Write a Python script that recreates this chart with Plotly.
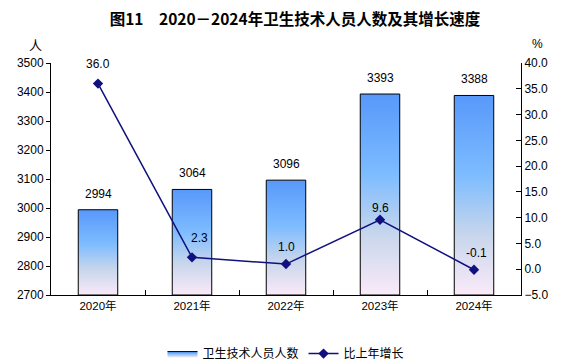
import plotly.graph_objects as go

# ---- data ----
years = ["2020年", "2021年", "2022年", "2023年", "2024年"]
staff = [2994, 3064, 3096, 3393, 3388]          # 卫生技术人员人数 (万人)
growth = [36.0, 2.3, 1.0, 9.6, -0.1]            # 比上年增长 (%)

# ---- style ----
FONT = "Liberation Sans, Arial, Noto Sans CJK SC, sans-serif"
CJK = "Noto Sans CJK SC, sans-serif"
NAVY = "#10107f"
BAR_W = 0.42
Y1_MIN, Y1_MAX = 2700, 3500
Y2_MIN, Y2_MAX = -5, 40
grad = [[0.0, "rgb(250,234,248)"], [0.3, "rgb(200,214,236)"],
        [0.6, "rgb(125,188,255)"], [1.0, "rgb(88,152,250)"]]
line_label_shift = [(0, 20), (7, 19), (0, 17), (0, 12), (2, 17)]

xs = list(range(len(years)))
fig = go.Figure()

for i, (x, v) in enumerate(zip(xs, staff)):
    fig.add_trace(go.Scatter(
        x=[x - BAR_W / 2, x + BAR_W / 2, x + BAR_W / 2, x - BAR_W / 2, x - BAR_W / 2],
        y=[Y1_MIN, Y1_MIN, v, v, Y1_MIN],
        mode="lines", fill="toself",
        fillgradient=dict(type="vertical", colorscale=grad),
        line=dict(color="black", width=1),
        name="卫生技术人员人数", legendgroup="bars", showlegend=(i == 0),
        hoverinfo="skip", yaxis="y"))

fig.add_trace(go.Scatter(
    x=xs, y=growth, mode="lines+markers", yaxis="y2",
    line=dict(color=NAVY, width=1.5),
    marker=dict(symbol="diamond", size=8, color=NAVY),
    name="比上年增长"))

for x, v in zip(xs, staff):
    fig.add_annotation(x=x, y=v, yref="y", text=str(v), showarrow=False,
                       yshift=16, font=dict(family=FONT, size=12, color="black"))
for x, g, (dx, dy) in zip(xs, growth, line_label_shift):
    fig.add_annotation(x=x, y=g, yref="y2", text=f"{g:.1f}", showarrow=False,
                       xshift=dx, yshift=dy, font=dict(family=FONT, size=12, color="black"))

fig.add_annotation(xref="paper", yref="paper", x=-0.034, y=1.08, xanchor="center",
                   yanchor="middle", text="人", showarrow=False,
                   font=dict(family=CJK, size=13, color="black"))
fig.add_annotation(xref="paper", yref="paper", x=1.036, y=1.08, xanchor="center",
                   yanchor="middle", text="%", showarrow=False,
                   font=dict(family=FONT, size=12, color="black"))

fig.update_layout(
    template="none",
    width=576, height=364,
    margin=dict(l=51, r=55, t=63, b=69, autoexpand=False),
    paper_bgcolor="white", plot_bgcolor="white",
    font=dict(family=FONT, size=11, color="black"),
    title=dict(text="<b>图11\u30002020－2024年卫生技术人员人数及其增长速度</b>",
               x=0.519, xanchor="center", xref="paper", yref="container",
               y=1 - 20 / 364, yanchor="middle",
               font=dict(family=CJK, size=15.5, color="black")),
    xaxis=dict(range=[-0.5, len(years) - 0.5], tickmode="array", tickvals=xs,
               ticktext=years, ticks="", showgrid=False, zeroline=False,
               showline=True, linecolor="black", linewidth=1, automargin=False,
               tickfont=dict(family=FONT, size=11.5),
               minor=dict(tickmode="array", tickvals=[x + 0.5 for x in xs[:-1]],
                          ticks="inside", ticklen=5, tickcolor="black", showgrid=False)),
    yaxis=dict(range=[Y1_MIN, Y1_MAX], dtick=100, ticks="outside", ticklen=4,
               tickcolor="black", showgrid=False, zeroline=False, automargin=False,
               showline=True, linecolor="black", linewidth=1,
               tickfont=dict(family=FONT, size=12)),
    yaxis2=dict(range=[Y2_MIN, Y2_MAX], dtick=5, tickformat=".1f", overlaying="y",
                side="right", ticks="inside", ticklen=5, tickcolor="black",
                showgrid=False, zeroline=False, showline=True, linecolor="black",
                linewidth=1, automargin=False, tickfont=dict(family=FONT, size=12)),
    legend=dict(orientation="h", x=0.5, xanchor="center", y=-0.19, yanchor="top",
                font=dict(family=CJK, size=12), itemwidth=30,
                traceorder="normal", bgcolor="rgba(0,0,0,0)"),
    showlegend=True,
)

fig.write_html("out.html", config={"displayModeBar": False},
               post_script="document.body.style.margin='0';")
